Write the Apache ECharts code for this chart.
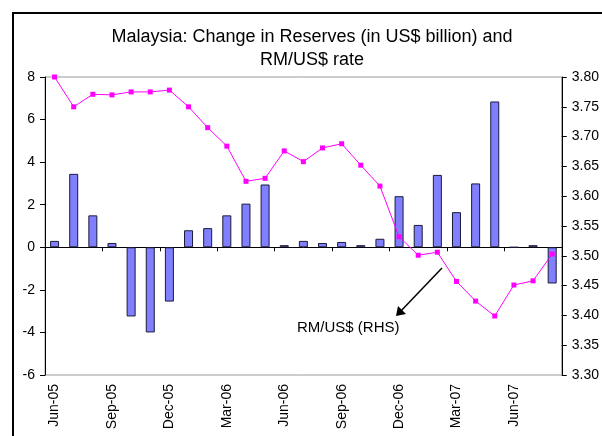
<!DOCTYPE html>
<html>
<head>
    <meta charset="utf-8"/>
    <title>Malaysia reserves</title>
    <script src="https://cdn.jsdelivr.net/npm/echarts@6/dist/echarts.min.js"></script>
    <style>
        body { margin: 0; background: #fff; }
        #frame { position: absolute; left: 12px; top: 12px; width: 700px; height: 600px;
                 border-left: 2px solid #000; border-top: 2px solid #000; }
        #myChart { position: absolute; left: 0; top: 0; width: 602px; height: 436px; }
    </style>
</head>
<body>
    <div id="frame"></div>
    <div id="myChart"></div>
<script type="text/javascript">
    // months Jun-05 .. Aug-07
    var months = ['Jun-05','Jul-05','Aug-05','Sep-05','Oct-05','Nov-05','Dec-05',
        'Jan-06','Feb-06','Mar-06','Apr-06','May-06','Jun-06','Jul-06','Aug-06','Sep-06','Oct-06','Nov-06','Dec-06',
        'Jan-07','Feb-07','Mar-07','Apr-07','May-07','Jun-07','Jul-07','Aug-07'];
    // change in reserves, US$ bn (LHS)
    var reserves = [0.3, 3.45, 1.5, 0.2, -3.25, -4.0, -2.55,
        0.8, 0.9, 1.5, 2.05, 2.95, 0.1, 0.3, 0.2, 0.25, 0.1, 0.4, 2.4,
        1.05, 3.4, 1.65, 3.0, 6.85, 0, 0.1, -1.7];
    // RM/US$ (RHS)
    var rate = [3.800, 3.750, 3.771, 3.770, 3.775, 3.775, 3.778,
        3.750, 3.715, 3.684, 3.625, 3.630, 3.676, 3.658, 3.681, 3.688, 3.652, 3.617, 3.532,
        3.501, 3.506, 3.457, 3.424, 3.399, 3.451, 3.458, 3.503];

    var font = 'Liberation Sans, Arial, sans-serif';
    var myChart = echarts.init(document.getElementById('myChart'));
    var option = {
        animation: false,
        title: {
            text: 'Malaysia: Change in Reserves (in US$ billion) and\nRM/US$ rate',
            left: 307,
            textAlign: 'center',
            top: 21,
            textStyle: { fontFamily: font, fontSize: 18, fontWeight: 'normal', color: '#000', lineHeight: 23 }
        },
        grid: {
            left: 45, right: 37, top: 77, bottom: 61,
            show: true, borderColor: '#999', borderWidth: 1
        },
        xAxis: [{
            type: 'category',
            data: months,
            position: 'bottom',
            axisLine: { onZero: true, lineStyle: { color: '#000', width: 1 } },
            axisTick: { show: true, length: 4, lineStyle: { color: '#000' } },
            axisLabel: { show: false }
        }, {
            type: 'category',
            data: months,
            position: 'bottom',
            axisLine: { show: false, onZero: false },
            axisTick: { show: false },
            axisLabel: { rotate: 90, interval: 2, margin: 9, fontFamily: font, fontSize: 14, color: '#000' }
        }],
        yAxis: [{
            type: 'value',
            min: -6, max: 8, interval: 2,
            axisLine: { show: true, lineStyle: { color: '#000' } },
            axisTick: { show: true, length: 5, lineStyle: { color: '#000' } },
            splitLine: { show: false },
            axisLabel: { margin: 10, fontFamily: font, fontSize: 14, color: '#000' }
        }, {
            type: 'value',
            position: 'right',
            min: 3.3, max: 3.8, interval: 0.05,
            axisLine: { show: true, lineStyle: { color: '#000' } },
            axisTick: { show: true, length: 5, lineStyle: { color: '#000' } },
            splitLine: { show: false },
            axisLabel: {
                margin: 10, fontFamily: font, fontSize: 14, color: '#000',
                formatter: function (v) { return v.toFixed(2); }
            }
        }],
        series: [{
            name: 'Change in reserves',
            type: 'bar',
            xAxisIndex: 0, yAxisIndex: 0,
            data: reserves,
            barWidth: 9,
            itemStyle: { color: '#8080ff', borderColor: '#1a1a3a', borderWidth: 1 }
        }, {
            name: 'RM/US$ (RHS)',
            type: 'line',
            xAxisIndex: 0, yAxisIndex: 1,
            data: rate,
            symbol: 'rect',
            symbolSize: 5,
            lineStyle: { color: '#ff00ff', width: 1 },
            itemStyle: { color: '#ff00ff' }
        }],
        graphic: [{
            type: 'line',
            shape: { x1: 442, y1: 268, x2: 399, y2: 313 },
            style: { stroke: '#000', lineWidth: 1.5 }
        }, {
            type: 'polygon',
            shape: { points: [[396, 316], [398, 306], [406, 314]] },
            style: { fill: '#000' }
        }, {
            type: 'text',
            left: 297, top: 320,
            style: { text: 'RM/US$ (RHS)', font: '15px ' + font, fill: '#000' }
        }]
    };
    myChart.setOption(option);
</script>
</body>
</html>
